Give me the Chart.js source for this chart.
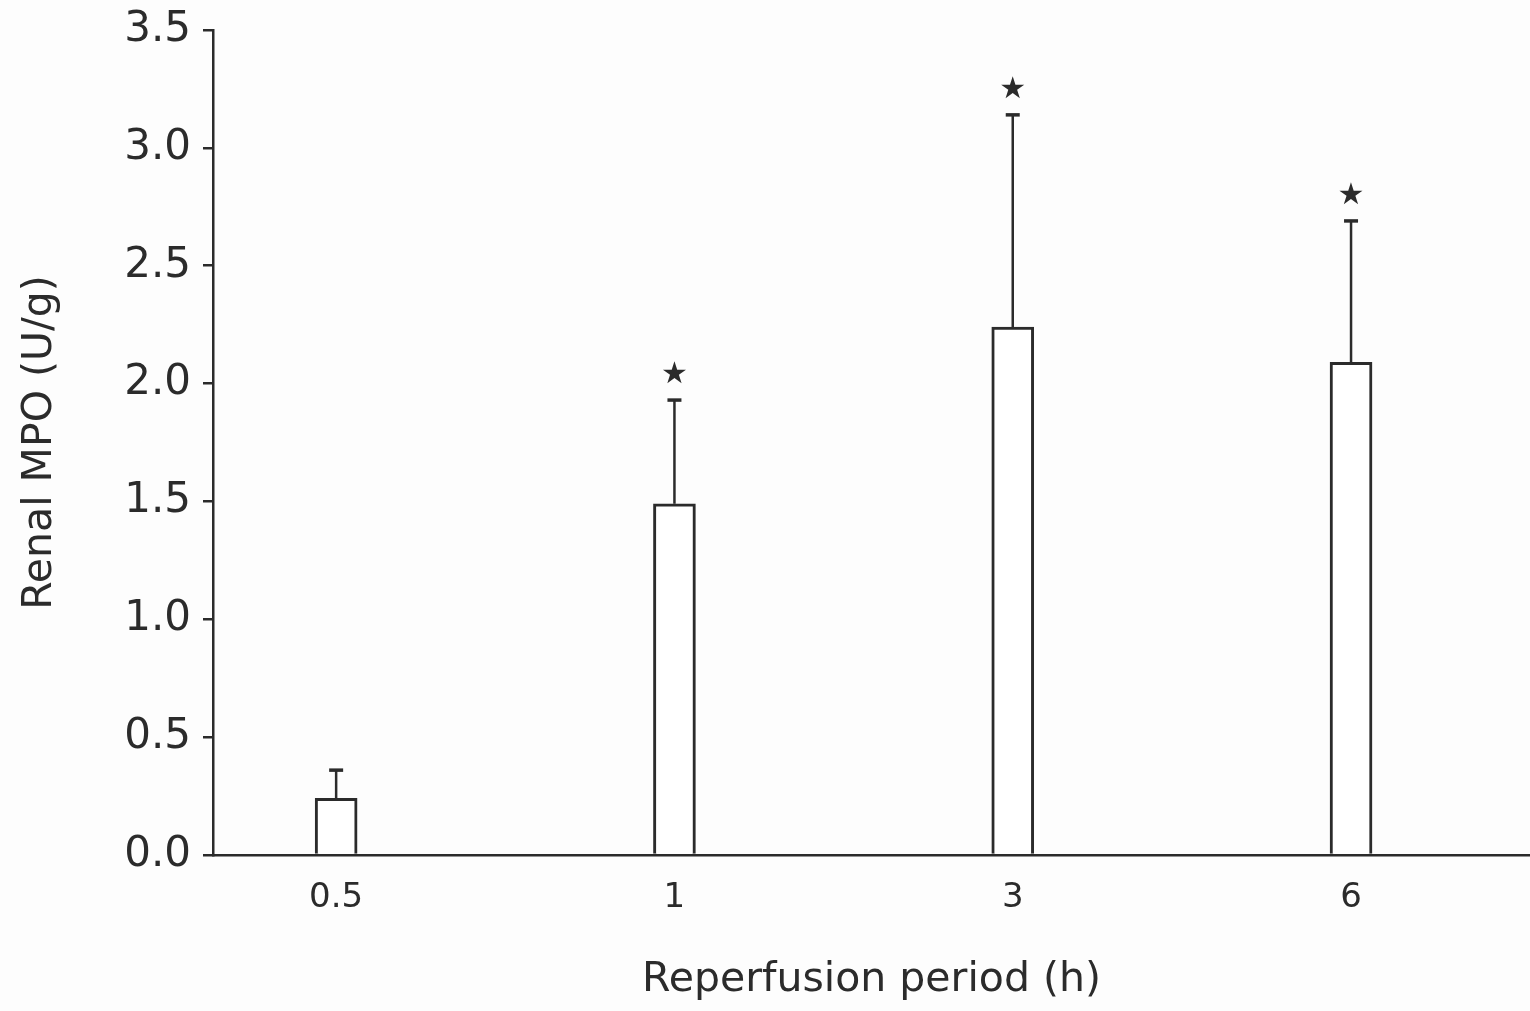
<!DOCTYPE html>
<html>
<head>
<meta charset="utf-8">
<script src="https://cdn.jsdelivr.net/npm/chart.js@4.4.1/dist/chart.umd.min.js"></script>
<style>
  html, body { margin: 0; padding: 0; background: #fdfdfd; }
  #wrap { width: 1530px; height: 1011px; position: relative; }
</style>
</head>
<body>
<div id="wrap"><canvas id="c"></canvas></div>
<script>
// Reperfusion periods (h) on the x axis
const periods = ['0.5', '1', '3', '6'];
// Mean renal MPO (U/g) per period
const mpoMean = [0.24, 1.49, 2.24, 2.09];
// Upper error (SEM) per period
const mpoError = [0.12, 0.44, 0.90, 0.60];
// Significance markers (star above the error bar)
const significant = [false, true, true, true];
// Y axis tick values
const yTicks = [0.0, 0.5, 1.0, 1.5, 2.0, 2.5, 3.0, 3.5];

const ink = '#2b2b2b';
const fontFamily = '"DejaVu Sans", "Liberation Sans", sans-serif';

// Draws upper error bars with caps and significance stars
const errorBarPlugin = {
  id: 'errorBars',
  afterDatasetsDraw(chart) {
    const { ctx, scales: { x, y } } = chart;
    ctx.save();
    ctx.strokeStyle = ink;
    ctx.lineCap = 'butt';
    periods.forEach((p, i) => {
      const px = x.getPixelForValue(i);
      const yBase = y.getPixelForValue(mpoMean[i]);
      const yTop = y.getPixelForValue(mpoMean[i] + mpoError[i]);
      ctx.lineWidth = 2.5;
      ctx.beginPath();
      ctx.moveTo(px, yBase);
      ctx.lineTo(px, yTop);
      ctx.stroke();
      ctx.lineWidth = 3.5;
      ctx.beginPath();
      ctx.moveTo(px - 7, yTop);
      ctx.lineTo(px + 7, yTop);
      ctx.stroke();
      if (significant[i]) {
        ctx.fillStyle = ink;
        ctx.font = '30px ' + fontFamily;
        ctx.textAlign = 'center';
        ctx.textBaseline = 'middle';
        ctx.fillText('\u2605', px, yTop - 25);
      }
    });
    ctx.restore();
  }
};

new Chart(document.getElementById('c'), {
  type: 'bar',
  data: {
    datasets: [{
      data: mpoMean.map((v, i) => ({ x: i, y: v })),
      backgroundColor: '#ffffff',
      borderColor: ink,
      borderWidth: 3,
      barThickness: 42,
      borderSkipped: 'bottom'
    }]
  },
  options: {
    responsive: true,
    maintainAspectRatio: false,
    animation: false,
    layout: { padding: { top: 30, right: 0, bottom: 0, left: 0 } },
    plugins: { legend: { display: false }, tooltip: { enabled: false } },
    scales: {
      x: {
        type: 'linear',
        offset: false,
        min: -0.364,
        max: 3.529,
        afterBuildTicks(scale) {
          scale.ticks = periods.map((_, i) => ({ value: i }));
        },
        afterFit(scale) {
          scale.height = 156;
          scale.paddingLeft = 0;
          scale.paddingRight = 0;
        },
        ticks: {
          color: ink,
          font: { family: fontFamily, size: 34 },
          padding: 23,
          maxRotation: 0,
          callback: (v) => periods[v]
        },
        grid: { display: false, drawTicks: false, offset: false },
        border: { display: true, color: ink, width: 2.5 },
        title: {
          display: true,
          text: 'Reperfusion period (h)',
          color: ink,
          font: { family: fontFamily, size: 41 },
          padding: { top: 0, bottom: 6 }
        }
      },
      y: {
        min: 0,
        max: 3.5,
        afterBuildTicks(scale) {
          scale.ticks = yTicks.map(v => ({ value: v }));
        },
        afterFit(scale) {
          scale.width = 213;
          scale.paddingTop = 0;
          scale.paddingBottom = 0;
        },
        ticks: {
          color: ink,
          font: { family: fontFamily, size: 42 },
          padding: 12,
          callback: (v) => Number(v).toFixed(1)
        },
        grid: {
          drawOnChartArea: false,
          drawTicks: true,
          tickLength: 10,
          color: ink,
          lineWidth: 2.5
        },
        border: { display: true, color: ink, width: 2.5 },
        title: {
          display: true,
          text: 'Renal MPO (U/g)',
          color: ink,
          font: { family: fontFamily, size: 41 },
          padding: { top: 16, bottom: 0 }
        }
      }
    }
  },
  plugins: [errorBarPlugin]
});
</script>
</body>
</html>
